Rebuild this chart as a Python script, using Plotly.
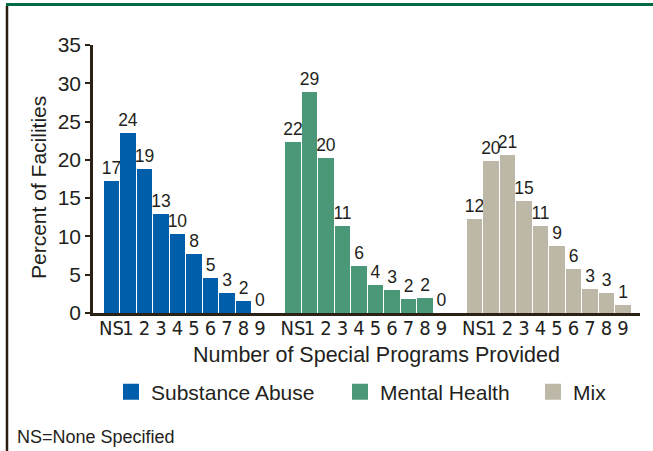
import plotly.graph_objects as go

# ---- data ----
categories = ["NS", "1", "2", "3", "4", "5", "6", "7", "8", "9"]
series_names = ["Substance Abuse", "Mental Health", "Mix"]
substance_abuse = [17.3, 23.5, 18.8, 12.9, 10.3, 7.7, 4.6, 2.6, 1.6, 0.0]
mental_health = [22.3, 28.8, 20.3, 11.3, 6.2, 3.6, 3.0, 1.8, 1.9, 0.0]
mix = [12.3, 19.9, 20.6, 14.6, 11.3, 8.7, 5.7, 3.1, 2.6, 1.1]
labels_substance_abuse = ["17", "24", "19", "13", "10", "8", "5", "3", "2", "0"]
labels_mental_health = ["22", "29", "20", "11", "6", "4", "3", "2", "2", "0"]
labels_mix = ["12", "20", "21", "15", "11", "9", "6", "3", "3", "1"]
y_ticks = [0, 5, 10, 15, 20, 25, 30, 35]

# ---- style ----
colors = ["#005EAA", "#4A9878", "#BDB7A7"]
text_color = "#231F20"
axis_color = "#2B2114"
font_main = "Liberation Sans, Arial, sans-serif"
font_narrow = "Liberation Sans Narrow, Arial Narrow, DejaVu Sans Condensed, sans-serif"

W, H = 653, 451
L, R, T, B = 93, 13, 45, 138
plot_w = W - L - R
plot_h = H - T - B


def px_x(px):
    return (px - L) / plot_w


def px_y(py):
    return (H - B - py) / plot_h


all_values = [substance_abuse, mental_health, mix]
all_labels = [labels_substance_abuse, labels_mental_health, labels_mix]
n = len(categories)
group_step = n + 1

fig = go.Figure()
tickvals, ticktext = [], []
for g, (name, vals, labs, col) in enumerate(zip(series_names, all_values, all_labels, colors)):
    xs = [g * group_step + i for i in range(n)]
    tickvals += xs
    ticktext += categories
    fig.add_trace(go.Bar(
        x=xs, y=vals, text=labs, textposition="outside", constraintext="none",
        textfont=dict(size=17.5, color=text_color, family=font_main),
        marker=dict(color=col, line=dict(width=0)),
        width=0.92, cliponaxis=False, showlegend=False, name=name,
    ))

legend_names = ["legend", "legend2", "legend3"]
legend_px = [111, 340, 533]
for name, col, lg in zip(series_names, colors, legend_names):
    fig.add_trace(go.Scatter(
        x=[None], y=[None], mode="markers", name=name,
        marker=dict(symbol="square", size=17, color=col),
        legend=lg, showlegend=True,
    ))

legend_common = dict(
    orientation="h", yanchor="middle", xanchor="left", y=px_y(392),
    font=dict(size=21, color=text_color, family=font_main),
    bgcolor="rgba(0,0,0,0)", borderwidth=0,
)
fig.update_layout(
    legend=dict(x=px_x(legend_px[0]), **legend_common),
    legend2=dict(x=px_x(legend_px[1]), **legend_common),
    legend3=dict(x=px_x(legend_px[2]), **legend_common),
)

fig.update_layout(
    width=W, height=H,
    margin=dict(l=L, r=R, t=T, b=B, pad=0),
    paper_bgcolor="white", plot_bgcolor="white",
    font=dict(family=font_main, color=text_color, size=21),
    bargap=0,
    xaxis=dict(
        range=[-1.12, 32.03], tickvals=tickvals, ticktext=ticktext, tickangle=0,
        ticklabelstandoff=-5,
        showgrid=False, zeroline=False, showline=True, linecolor=axis_color,
        linewidth=2.5, ticks="", tickfont=dict(family=font_narrow, size=20, color=text_color),
        fixedrange=True,
    ),
    yaxis=dict(
        range=[0, 35], tickvals=y_ticks, showgrid=False, zeroline=False,
        showline=True, linecolor=axis_color, linewidth=2.5,
        ticks="outside", ticklen=5, tickwidth=2, tickcolor=axis_color,
        tickfont=dict(family=font_main, size=21, color=text_color),
        fixedrange=True,
    ),
    annotations=[
        dict(text="Percent of Facilities", textangle=-90, xref="paper", yref="paper",
             x=px_x(39), y=px_y(188), xanchor="center", yanchor="middle",
             showarrow=False, font=dict(size=21, color=text_color, family=font_main)),
        dict(text="Number of Special Programs Provided", xref="paper", yref="paper",
             x=px_x(377), y=px_y(355), xanchor="center", yanchor="middle",
             showarrow=False, font=dict(size=21.5, color=text_color, family=font_main)),
        dict(text="NS=None Specified", xref="paper", yref="paper",
             x=px_x(15), y=px_y(437), xanchor="left", yanchor="middle",
             showarrow=False, font=dict(size=18, color=text_color, family=font_main)),
    ],
    shapes=[
        dict(type="line", xref="paper", yref="paper", x0=px_x(6), x1=px_x(660),
             y0=px_y(4.5), y1=px_y(4.5), line=dict(color="#006A45", width=3)),
        dict(type="line", xref="paper", yref="paper", x0=px_x(7), x1=px_x(7),
             y0=px_y(6), y1=px_y(460), line=dict(color="#2A1E12", width=2.5)),
    ],
)

fig.write_html(
    "out.html",
    config={"displayModeBar": False},
    post_script="document.body.style.margin='0';document.body.style.overflow='hidden';",
)
